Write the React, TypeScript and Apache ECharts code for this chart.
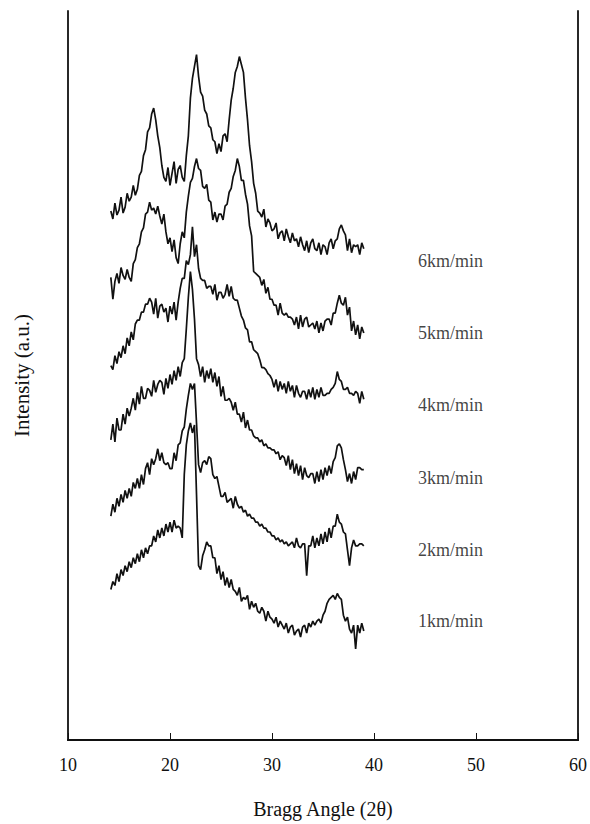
import React, { useEffect, useRef } from "react";
import * as echarts from "echarts";

// Diffraction patterns sampled every 0.2° of 2θ, from 14.2° to 39.0°
const ANGLE_START = 14.2;
const ANGLE_STEP = 0.2;

const SPEED_LABELS = ["1km/min", "2km/min", "3km/min", "4km/min", "5km/min", "6km/min"];
// vertical offsets used to stack the patterns (a.u.)
const OFFSETS = [100, 172, 245, 318, 391, 464];
// position of the speed label next to each pattern
const LABEL_ANGLE = 47.5;
const LABEL_RISE = 20;

const X_TICKS = [10, 20, 30, 40, 50, 60];

const I_1KM = [
  52, 60, 56, 68, 60, 72, 66, 76, 70, 80,
  74, 84, 78, 88, 80, 92, 84, 94, 88, 96,
  96, 106, 100, 112, 104, 114, 106, 118, 110, 120,
  110, 122, 114, 116, 114, 104, 168, 198, 212, 220,
  210, 218, 148, 76, 72, 86, 92, 100, 96, 96,
  84, 84, 68, 76, 62, 70, 56, 64, 54, 62,
  52, 50, 46, 54, 40, 44, 42, 46, 32, 40,
  34, 38, 30, 28, 34, 30, 20, 30, 24, 22,
  18, 24, 14, 20, 16, 12, 18, 8, 14, 16,
  6, 10, 12, 4, 14, 16, 8, 18, 14, 20,
  16, 20, 22, 18, 26, 30, 38, 42, 44, 46,
  42, 48, 44, 42, 26, 20, 24, 12, 8, 16,
  -8, 16, 8, 18, 10,
];

const I_2KM = [
  54, 66, 58, 72, 64, 76, 68, 80, 72, 82,
  74, 88, 82, 92, 82, 96, 86, 102, 108, 96,
  112, 106, 112, 122, 110, 118, 108, 106, 108, 102,
  102, 118, 110, 126, 128, 140, 144, 162, 176, 188,
  182, 188, 148, 106, 98, 108, 110, 106, 114, 112,
  96, 92, 94, 84, 74, 74, 78, 68, 70, 72,
  62, 74, 66, 62, 64, 58, 60, 54, 56, 52,
  52, 48, 48, 44, 46, 42, 42, 38, 38, 34,
  34, 30, 32, 28, 30, 26, 28, 24, 26, 28,
  22, 32, 24, 22, 26, 26, -6, 24, 24, 34,
  22, 32, 24, 36, 26, 38, 28, 42, 32, 44,
  44, 56, 48, 46, 38, 36, 20, 4, 22, 30,
  24, 24, 26, 26, 24,
];

const I_3KM = [
  58, 74, 56, 80, 68, 68, 84, 74, 90, 82,
  90, 100, 88, 106, 94, 112, 100, 100, 110, 108,
  102, 118, 106, 114, 118, 116, 104, 120, 110, 124,
  114, 128, 118, 132, 122, 136, 140, 170, 202, 228,
  210, 180, 140, 134, 122, 132, 116, 128, 120, 130,
  116, 126, 112, 122, 102, 112, 98, 98, 100, 96,
  88, 96, 84, 84, 76, 86, 70, 78, 68, 68,
  62, 60, 60, 56, 58, 52, 54, 50, 50, 48,
  48, 44, 46, 38, 42, 40, 32, 42, 28, 38,
  24, 34, 22, 32, 18, 30, 22, 20, 24, 24,
  14, 26, 16, 28, 18, 30, 22, 32, 24, 36,
  40, 52, 54, 50, 38, 28, 16, 24, 14, 26,
  18, 30, 30, 28, 28,
];

const I_4KM = [
  60, 56, 70, 62, 74, 68, 80, 72, 88, 80,
  94, 86, 102, 106, 106, 114, 114, 122, 122, 128,
  124, 112, 128, 108, 120, 122, 114, 118, 104, 120,
  112, 124, 106, 124, 138, 148, 148, 166, 162, 172,
  200, 170, 182, 158, 148, 146, 146, 138, 140, 140,
  132, 142, 126, 134, 134, 128, 132, 142, 130, 140,
  128, 126, 126, 118, 110, 106, 98, 96, 84, 84,
  76, 74, 72, 66, 58, 58, 56, 52, 50, 46,
  38, 46, 34, 44, 36, 42, 32, 44, 34, 40,
  28, 40, 32, 28, 34, 34, 26, 36, 28, 38,
  26, 36, 28, 38, 30, 30, 32, 32, 36, 38,
  42, 54, 46, 44, 36, 36, 38, 32, 32, 30,
  34, 32, 22, 34, 26,
];

const I_5KM = [
  76, 54, 72, 80, 70, 86, 78, 74, 84, 76,
  72, 90, 94, 106, 110, 122, 126, 140, 142, 152,
  144, 146, 140, 148, 138, 130, 140, 122, 110, 116,
  102, 114, 96, 90, 110, 122, 116, 142, 158, 172,
  176, 188, 196, 186, 184, 168, 166, 170, 154, 152,
  134, 142, 132, 140, 140, 134, 148, 150, 162, 166,
  178, 184, 196, 188, 174, 174, 160, 150, 128, 118,
  82, 80, 78, 76, 68, 74, 60, 66, 54, 54,
  48, 48, 38, 50, 40, 38, 40, 36, 36, 34,
  28, 36, 24, 38, 26, 34, 36, 26, 28, 30,
  24, 32, 20, 30, 22, 32, 34, 34, 28, 40,
  40, 50, 58, 50, 48, 56, 38, 46, 22, 32,
  18, 28, 14, 26, 20,
];

const I_6KM = [
  70, 62, 78, 66, 71, 84, 68, 74, 88, 80,
  84, 96, 86, 92, 106, 110, 126, 132, 150, 154,
  168, 174, 162, 146, 134, 116, 104, 100, 114, 96,
  108, 120, 98, 112, 116, 104, 100, 126, 146, 184,
  204, 216, 228, 206, 190, 186, 172, 168, 156, 154,
  142, 140, 128, 138, 130, 146, 148, 140, 162, 182,
  194, 210, 216, 226, 218, 210, 184, 162, 136, 120,
  98, 88, 70, 68, 64, 72, 54, 62, 58, 50,
  52, 58, 42, 48, 50, 40, 52, 44, 38, 48,
  40, 42, 34, 44, 36, 30, 40, 28, 38, 42,
  32, 30, 38, 26, 36, 34, 26, 38, 42, 32,
  40, 42, 52, 56, 50, 46, 30, 42, 28, 36,
  34, 36, 26, 38, 32,
];

const PATTERNS = [I_1KM, I_2KM, I_3KM, I_4KM, I_5KM, I_6KM];

const FONT = "'Liberation Serif', 'Times New Roman', serif";
const INK = "#111";

export default function App() {
  const ref = useRef<HTMLDivElement>(null);

  useEffect(() => {
    if (!ref.current) return;
    const chart = echarts.init(ref.current, undefined, { renderer: "svg" });

    const lineSeries = PATTERNS.map((values, k) => ({
      name: SPEED_LABELS[k],
      type: "line",
      xAxisIndex: 0,
      yAxisIndex: 0,
      showSymbol: false,
      symbol: "none",
      silent: true,
      lineStyle: { color: INK, width: 1.7 },
      data: values.map((v, i) => [
        +(ANGLE_START + i * ANGLE_STEP).toFixed(2),
        v + OFFSETS[k],
      ]),
    }));

    const labelSeries = {
      type: "scatter",
      xAxisIndex: 0,
      yAxisIndex: 0,
      symbolSize: 0,
      silent: true,
      data: SPEED_LABELS.map((name, k) => ({
        name,
        value: [LABEL_ANGLE, OFFSETS[k] + LABEL_RISE],
      })),
      label: {
        show: true,
        position: "inside",
        formatter: (p: any) => p.name,
        color: INK,
        fontFamily: FONT,
        fontSize: 18,
      },
    };

    chart.setOption({
      animation: false,
      backgroundColor: "#ffffff",
      grid: { left: 68, right: 12, top: 11, bottom: 77 },
      xAxis: [
        {
          type: "value",
          position: "bottom",
          min: X_TICKS[0],
          max: X_TICKS[X_TICKS.length - 1],
          interval: 10,
          name: "Bragg Angle (2θ)",
          nameLocation: "middle",
          nameGap: 59,
          nameTextStyle: { fontFamily: FONT, fontSize: 20, color: INK },
          axisLine: { show: true, lineStyle: { color: INK, width: 1.8 } },
          axisTick: { show: true, inside: true, length: 7, lineStyle: { color: INK, width: 1 } },
          axisLabel: { fontFamily: FONT, fontSize: 18, color: INK, margin: 16 },
          splitLine: { show: false },
        },
        {
          type: "value",
          position: "top",
          min: X_TICKS[0],
          max: X_TICKS[X_TICKS.length - 1],
          axisLine: { show: true, lineStyle: { color: INK, width: 1.8 } },
          axisTick: { show: false },
          axisLabel: { show: false },
          splitLine: { show: false },
        },
      ],
      yAxis: [
        {
          type: "value",
          position: "left",
          min: 0,
          max: 736,
          name: "Intensity (a.u.)",
          nameLocation: "middle",
          nameGap: 36,
          nameTextStyle: { fontFamily: FONT, fontSize: 21, color: INK },
          axisLine: { show: true, lineStyle: { color: INK, width: 1.8 } },
          axisTick: { show: false },
          axisLabel: { show: false },
          splitLine: { show: false },
        },
        {
          type: "value",
          position: "right",
          min: 0,
          max: 736,
          axisLine: { show: true, lineStyle: { color: INK, width: 1.8 } },
          axisTick: { show: false },
          axisLabel: { show: false },
          splitLine: { show: false },
        },
      ],
      series: [...lineSeries, labelSeries],
    });

    return () => chart.dispose();
  }, []);

  return (
    <div
      ref={ref}
      style={{ position: "fixed", left: 0, top: 0, width: 590, height: 824, background: "#fff" }}
    />
  );
}
